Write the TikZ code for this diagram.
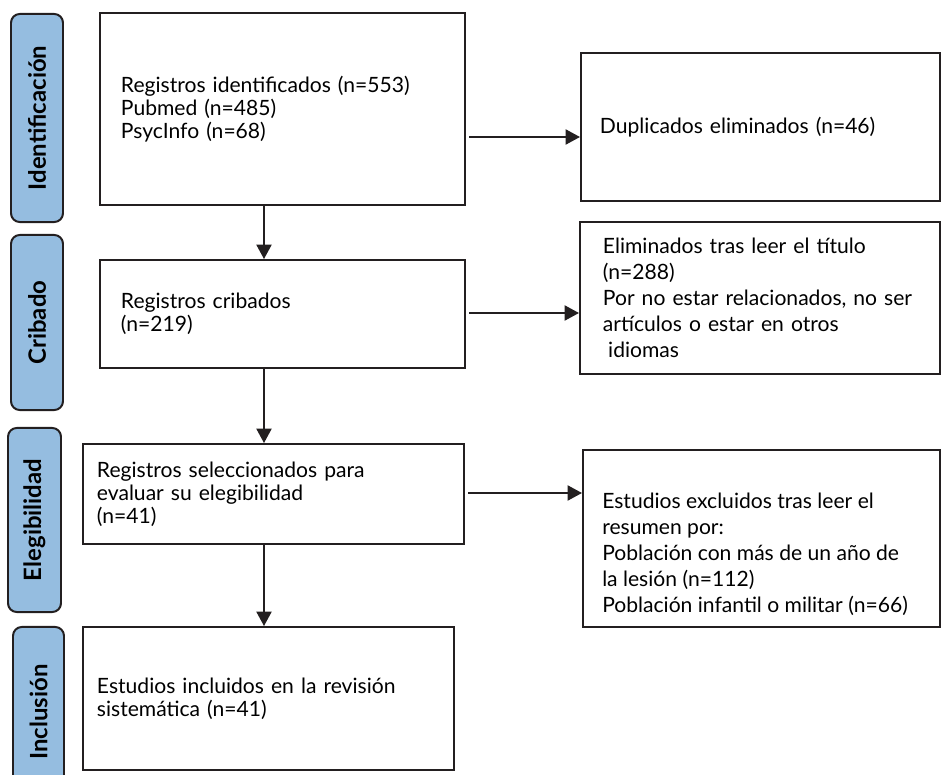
\documentclass[tikz,border=0pt]{standalone}
\usepackage{fontspec}
\setmainfont{Lato}
\usepackage{xcolor}
\usetikzlibrary{arrows.meta}
\definecolor{phasefill}{RGB}{149,189,224}
\definecolor{inkline}{RGB}{35,31,32}

\begin{document}
\begin{tikzpicture}[x=0.025cm,y=-0.025cm,
    phase/.style={draw=inkline, line width=1.4pt, fill=phasefill, rounded corners=0.22cm,
        rotate=90, inner sep=0pt, font=\bfseries\fontsize{17}{19}\selectfont},
    stagebox/.style={draw=inkline, line width=1.4pt, align=left, inner ysep=0pt,
        font=\fontsize{15}{16.4}\selectfont},
    sidebox/.style={stagebox, font=\fontsize{15}{18.5}\selectfont},
    sidetext/.style={align=left, inner sep=0pt, font=\fontsize{15}{18.5}\selectfont},
    flow/.style={draw=inkline, line width=1.1pt, -{Triangle[length=0.36cm,width=0.38cm]}}]
    \useasboundingbox (0,0) rectangle (942,775);
    \clip (0,0) rectangle (942,775);

    % Phase labels
    \node[phase, minimum width=5.2cm, minimum height=1.3cm] (lid) at (37,118) {Identificación};
    \node[phase, minimum width=4.375cm, minimum height=1.3cm] (lcr) at (37,322.5) {Cribado};
    \node[phase, minimum width=4.6cm, minimum height=1.325cm] (lel) at (34.5,520) {Elegibilidad};
    \node[phase, minimum width=4.25cm, minimum height=1.275cm] (lin) at (38.5,712) {Inclusión};

    % Main flow
    \node[stagebox, minimum width=9.125cm, minimum height=4.8cm, inner xsep=0.525cm, text width=8.075cm] (ident) at (282.5,109)
        {Registros identificados (n=553)\\Pubmed (n=485)\\PsycInfo (n=68)};
    \node[stagebox, minimum width=9.125cm, minimum height=2.7cm, inner xsep=0.525cm, text width=8.075cm] (crib) at (282.5,314)
        {Registros cribados\\(n=219)};
    \node[stagebox, minimum width=9.525cm, minimum height=2.5cm, inner xsep=0.35cm, text width=8.825cm] (eleg) at (273.5,494)
        {Registros seleccionados para\\evaluar su elegibilidad\\(n=41)};
    \node[stagebox, minimum width=9.275cm, minimum height=3.575cm, inner xsep=0.35cm, text width=8.575cm] (incl) at (268.5,698.5)
        {Estudios incluidos en la revisión\\sistemática (n=41)};

    % Excluded records
    \node[sidebox, minimum width=8.975cm, minimum height=3.7cm, inner xsep=0.475cm, text width=8.025cm] (dup) at (760.5,127)
        {Duplicados eliminados (n=46)};
    \node[sidebox, minimum width=9cm, minimum height=3.8cm, inner xsep=0.575cm, text width=7.85cm] (tit) at (760,298)
        {Eliminados tras leer el título\\(n=288)\\Por no estar relacionados, no ser\\artículos o estar en otros\\\hspace*{0.25em}idiomas};
    \node[sidebox, minimum width=8.925cm, minimum height=4.425cm] (res) at (761.5,538.5) {};
    \node[sidetext, anchor=west] (restext) at ([xshift=0.5cm,yshift=-0.4cm]res.west)
        {Estudios excluidos tras leer el\\resumen por:\\Población con más de un año de\\la lesión (n=112)\\Población infantil o militar (n=66)};

    % Connectors
    \coordinate (ax) at (264,0);
    \coordinate (h1) at (0,137);
    \coordinate (h2) at (0,313);
    \coordinate (h3) at (0,493);
    \draw[flow] (ident.south -| ax) -- (crib.north -| ax);
    \draw[flow] (crib.south -| ax) -- (eleg.north -| ax);
    \draw[flow] (eleg.south -| ax) -- (incl.north -| ax);
    \draw[flow, shorten <=0.075cm] (ident.east |- h1) -- (dup.west |- h1);
    \draw[flow, shorten <=0.075cm] (crib.east |- h2) -- (tit.west |- h2);
    \draw[flow, shorten <=0.075cm] (eleg.east |- h3) -- (res.west |- h3);
\end{tikzpicture}
\end{document}
